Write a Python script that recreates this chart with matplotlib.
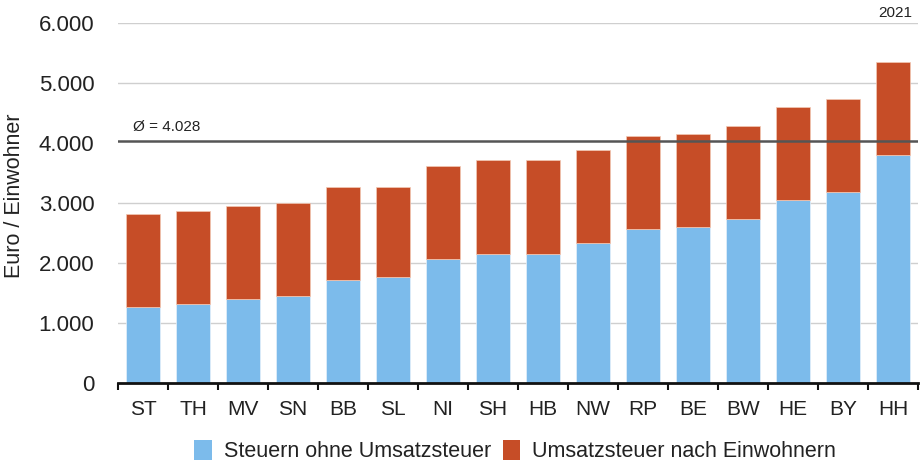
import matplotlib
matplotlib.use("Agg")
import matplotlib.pyplot as plt
import numpy as np
from matplotlib.patches import Patch

plt.rcParams['font.family'] = ['Liberation Sans', 'DejaVu Sans']

states = ["ST", "TH", "MV", "SN", "BB", "SL", "NI", "SH", "HB", "NW", "RP", "BE", "BW", "HE", "BY", "HH"]
taxes_without_vat = [1271, 1310, 1399, 1443, 1710, 1760, 2065, 2153, 2153, 2336, 2559, 2598, 2731, 3047, 3175, 3797]
totals = [2819, 2864, 2953, 2998, 3259, 3259, 3619, 3708, 3708, 3885, 4108, 4152, 4286, 4596, 4731, 5350]
vat_per_capita = [t - b for t, b in zip(totals, taxes_without_vat)]
average = 4028
yticks = [0, 1000, 2000, 3000, 4000, 5000, 6000]
ytick_labels = ["0", "1.000", "2.000", "3.000", "4.000", "5.000", "6.000"]
legend_labels = ["Steuern ohne Umsatzsteuer", "Umsatzsteuer nach Einwohnern"]
year_label = "2021"
avg_label = "Ø = 4.028"

blue = "#7CBBEB"
orange = "#C64D27"

fig = plt.figure(figsize=(9.23, 4.67), dpi=100)
ax = fig.add_axes([118/923, 1 - 383/467, 800/923, (383 - 22.7)/467])

x = np.arange(len(states))
ax.bar(x, taxes_without_vat, width=0.68, color=blue, edgecolor="#E6F1FA", linewidth=0.5, zorder=3)
ax.bar(x, vat_per_capita, bottom=taxes_without_vat, width=0.68, color=orange,
       edgecolor="#F3C9B5", linewidth=0.5, zorder=3)

ax.set_xlim(-0.5, len(states) - 0.5)
ax.set_ylim(0, 6000)

for v in yticks[1:]:
    if v == 4000:
        continue
    ax.axhline(v, color="#CFCFCF", linewidth=1.0, zorder=1)
ax.axhline(average, color="#555555", linewidth=1.8, zorder=4)

for s in ["top", "right", "left"]:
    ax.spines[s].set_visible(False)
ax.spines["bottom"].set_linewidth(2)
ax.spines["bottom"].set_color("#111111")
ax.spines["bottom"].set_zorder(5)

ax.set_yticks(yticks)
ax.set_yticklabels(ytick_labels, fontsize=16, color="#222222")
ax.tick_params(axis="y", length=0, pad=17)

ax.set_xticks(np.arange(len(states) + 1) - 0.5)
ax.set_xticklabels([])
ax.tick_params(axis="x", which="major", length=5, width=1.5, color="#111111", direction="out")
ax.set_xticks(x, minor=True)
ax.set_xticklabels(states, minor=True, fontsize=15, color="#222222")
ax.tick_params(axis="x", which="minor", length=0, pad=12)

ax.set_ylabel("Euro / Einwohner", fontsize=15.5, color="#222222")
ax.yaxis.set_label_coords((25 - 118) / 800, 0.52)

fig.text(912/923, 1 - 13/467, year_label, ha="right", va="center", fontsize=11, color="#222222")
ax.text(-0.5 + (133 - 118) / 50.0, average + 120, avg_label,
        ha="left", va="bottom", fontsize=11, color="#222222")

handles = [Patch(facecolor=blue, edgecolor="none"), Patch(facecolor=orange, edgecolor="none")]
fig.legend(handles, legend_labels, loc="center", bbox_to_anchor=(515/923, 1 - 451/467), ncol=2,
           frameon=False, fontsize=15.5, handlelength=0.8, handleheight=1.1,
           handletextpad=0.55, columnspacing=0.55, labelcolor="#222222")

fig.savefig("out.png", dpi=100)
